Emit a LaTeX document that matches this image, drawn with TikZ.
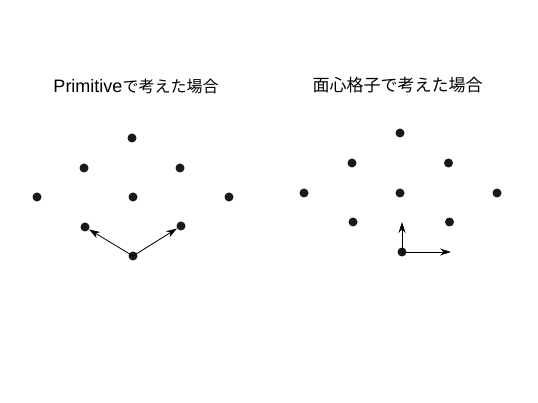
\documentclass[tikz,border=0pt]{standalone}
\usepackage{fontspec}
\setmainfont{Liberation Sans}
\newfontfamily\cjk{Noto Sans CJK JP}
\usetikzlibrary{arrows.meta}
\tikzset{
  pt/.style={circle,fill=black!90,inner sep=0pt,minimum size=9pt},
  vec/.style={-{Stealth[length=11pt,width=7pt]},line width=0.8pt,black},
  title/.style={inner sep=0pt,anchor=center}
}
\begin{document}
\begin{tikzpicture}[x=1pt,y=-1pt]
\useasboundingbox (0,0) rectangle (538,403);
\fill[white] (0,0) rectangle (538,403);
% titles
\node[title] (t1) at (136,86) {\fontsize{18}{20}\selectfont Primitive\cjk\fontsize{16}{20}\selectfont で考えた場合};
\node[title] (t2) at (397.5,85) {\cjk\fontsize{17}{20}\selectfont 面心格子で考えた場合};
% left lattice
\node[pt] (a1) at (132,138) {};
\node[pt] (a2) at (84,168) {};
\node[pt] (a3) at (180,168) {};
\node[pt] (a4) at (37,197) {};
\node[pt] (a5) at (133,197) {};
\node[pt] (a6) at (229,197) {};
\node[pt] (a7) at (85,227) {};
\node[pt] (a8) at (181,226) {};
\node[pt] (a9) at (133,256) {};
\draw[vec] (a9.center) -- (a7);
\draw[vec] (a9.center) -- (a8);
% right lattice
\node[pt] (b1) at (400,133) {};
\node[pt] (b2) at (352,163) {};
\node[pt] (b3) at (448.5,163) {};
\node[pt] (b4) at (304,193) {};
\node[pt] (b5) at (400,193) {};
\node[pt] (b6) at (497,193) {};
\node[pt] (b7) at (353,222) {};
\node[pt] (b8) at (449.5,222) {};
\node[pt] (b9) at (402,252) {};
\coordinate (bu) at (402,222);
\coordinate (br) at (451,252);
\draw[vec] (b9.center) -- (bu);
\draw[vec] (b9.center) -- (br);
\end{tikzpicture}
\end{document}
